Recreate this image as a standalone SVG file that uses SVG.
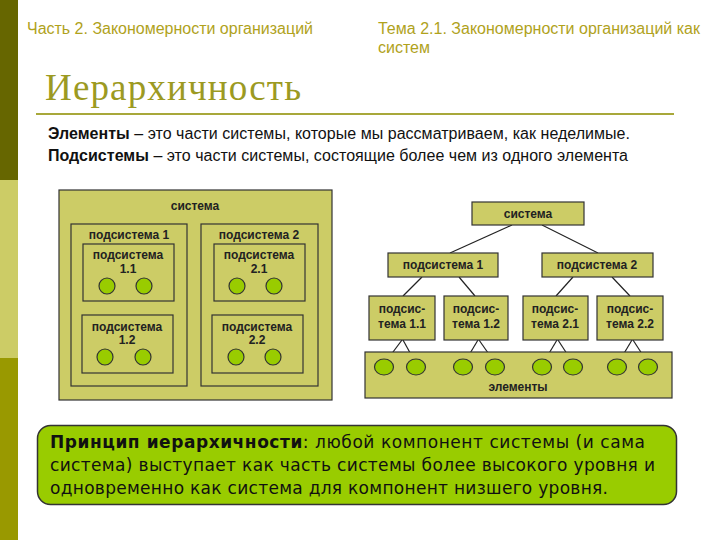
<svg xmlns="http://www.w3.org/2000/svg" width="720" height="540" viewBox="0 0 720 540">
<style>
.hdr{font-family:"Liberation Sans",Arial,sans-serif;font-size:16px;fill:#b0a21c}
.title{font-family:"Liberation Serif","Times New Roman",serif;font-size:37px;fill:#9c9a22}
.def{font-family:"Liberation Sans",Arial,sans-serif;font-size:16px;fill:#111}
.box{fill:#cccc66;stroke:#333;stroke-width:1.2}
.el{fill:#99cc00;stroke:#333;stroke-width:1.2}
.lbl{font-family:"Liberation Sans",Arial,sans-serif;font-size:12px;font-weight:bold;fill:#222;text-anchor:middle}
.conn line{stroke:#222;stroke-width:1.2}
.prin{font-family:"DejaVu Sans",Verdana,sans-serif;font-size:17px;fill:#111}
</style>
<rect width="720" height="540" fill="#fff"/>
<rect x="0" y="0" width="18" height="180" fill="#666600"/>
<rect x="0" y="180" width="18" height="178" fill="#cccc66"/>
<rect x="0" y="358" width="18" height="182" fill="#999900"/>

<text class="hdr" x="27" y="34" textLength="286">Часть 2. Закономерности организаций</text>
<text class="hdr" x="378" y="34" textLength="322">Тема 2.1. Закономерности организаций как</text>
<text class="hdr" x="378" y="53">систем</text>
<text class="title" x="45" y="100" textLength="256">Иерархичность</text>
<line x1="36" y1="114" x2="674" y2="114" stroke="#a8a83a" stroke-width="2"/>
<text class="def" x="48" y="139" textLength="582"><tspan font-weight="bold">Элементы</tspan> – это части системы, которые мы рассматриваем, как неделимые.</text>
<text class="def" x="48" y="161" textLength="580"><tspan font-weight="bold">Подсистемы</tspan> – это части системы, состоящие более чем из одного элемента</text>

<!-- Left nested diagram -->
<g id="left-system">
<rect class="box" x="59" y="190" width="273" height="210"/>
<text class="lbl" x="195" y="210">система</text>
</g>
<g id="left-sub1">
<rect class="box" x="71" y="224" width="116" height="162"/>
<text class="lbl" x="129" y="239">подсистема 1</text>
</g>
<g id="left-sub2">
<rect class="box" x="201" y="224" width="117" height="162"/>
<text class="lbl" x="259" y="239">подсистема 2</text>
</g>
<g id="left-sub11">
<rect class="box" x="83" y="244" width="91" height="57"/>
<text class="lbl" x="128" y="259">подсистема</text>
<text class="lbl" x="128" y="273">1.1</text>
<circle class="el" cx="107" cy="286" r="8"/>
<circle class="el" cx="144" cy="286" r="8"/>
</g>
<g id="left-sub12">
<rect class="box" x="82" y="315" width="91" height="58"/>
<text class="lbl" x="127" y="331">подсистема</text>
<text class="lbl" x="127" y="344">1.2</text>
<circle class="el" cx="105" cy="357" r="8"/>
<circle class="el" cx="143" cy="357" r="8"/>
</g>
<g id="left-sub21">
<rect class="box" x="214" y="244" width="91" height="57"/>
<text class="lbl" x="259" y="259">подсистема</text>
<text class="lbl" x="259" y="273">2.1</text>
<circle class="el" cx="237" cy="286" r="8"/>
<circle class="el" cx="274" cy="286" r="8"/>
</g>
<g id="left-sub22">
<rect class="box" x="212" y="315" width="91" height="58"/>
<text class="lbl" x="257" y="331">подсистема</text>
<text class="lbl" x="257" y="344">2.2</text>
<circle class="el" cx="236" cy="357" r="8"/>
<circle class="el" cx="273" cy="357" r="8"/>
</g>

<!-- Right tree diagram -->
<g class="conn" id="connectors">
<line x1="512" y1="225" x2="450" y2="253"/>
<line x1="542" y1="225" x2="598" y2="253"/>
<line x1="422" y1="277" x2="403" y2="296"/>
<line x1="459" y1="277" x2="475" y2="296"/>
<line x1="573" y1="277" x2="556" y2="296"/>
<line x1="612" y1="277" x2="630" y2="296"/>
<line x1="402" y1="340" x2="387" y2="360"/>
<line x1="403" y1="340" x2="414" y2="360"/>
<line x1="478" y1="340" x2="466" y2="360"/>
<line x1="479" y1="340" x2="493" y2="360"/>
<line x1="557" y1="340" x2="545" y2="360"/>
<line x1="558" y1="340" x2="571" y2="360"/>
<line x1="632" y1="340" x2="620" y2="360"/>
<line x1="633" y1="340" x2="646" y2="360"/>
</g>
<g id="r-system">
<rect class="box" x="472" y="202" width="112" height="23"/>
<text class="lbl" x="528" y="218">система</text>
</g>
<g id="r-sub1">
<rect class="box" x="388" y="253" width="110" height="24"/>
<text class="lbl" x="443" y="269">подсистема 1</text>
</g>
<g id="r-sub2">
<rect class="box" x="542" y="253" width="111" height="24"/>
<text class="lbl" x="597" y="269">подсистема 2</text>
</g>
<g id="r-sub11">
<rect class="box" x="369" y="296" width="66" height="44"/>
<text class="lbl" x="402" y="313">подсис-</text>
<text class="lbl" x="402" y="328">тема 1.1</text>
</g>
<g id="r-sub12">
<rect class="box" x="444" y="296" width="64" height="44"/>
<text class="lbl" x="476" y="313">подсис-</text>
<text class="lbl" x="476" y="328">тема 1.2</text>
</g>
<g id="r-sub21">
<rect class="box" x="523" y="296" width="65" height="44"/>
<text class="lbl" x="555" y="313">подсис-</text>
<text class="lbl" x="555" y="328">тема 2.1</text>
</g>
<g id="r-sub22">
<rect class="box" x="597" y="296" width="66" height="44"/>
<text class="lbl" x="630" y="313">подсис-</text>
<text class="lbl" x="630" y="328">тема 2.2</text>
</g>
<g id="r-elements">
<rect class="box" x="365" y="352" width="307" height="46"/>
<text class="lbl" x="518" y="391">элементы</text>
<ellipse class="el" cx="384" cy="367" rx="9.5" ry="8"/>
<ellipse class="el" cx="416" cy="367" rx="9.5" ry="8"/>
<ellipse class="el" cx="463" cy="367" rx="9.5" ry="8"/>
<ellipse class="el" cx="495" cy="367" rx="9.5" ry="8"/>
<ellipse class="el" cx="542" cy="367" rx="9.5" ry="8"/>
<ellipse class="el" cx="573" cy="367" rx="9.5" ry="8"/>
<ellipse class="el" cx="617" cy="367" rx="9.5" ry="8"/>
<ellipse class="el" cx="648" cy="367" rx="9.5" ry="8"/>
</g>

<!-- Principle box -->
<g id="principle">
<rect x="37.5" y="425.5" width="639" height="79" rx="13" fill="#99cc00" stroke="#333" stroke-width="1.5"/>
<text class="prin" x="50" y="448" textLength="595"><tspan font-weight="bold">Принцип иерархичности</tspan>: любой компонент системы (и сама</text>
<text class="prin" x="50" y="471" textLength="605">система) выступает как часть системы более высокого уровня и</text>
<text class="prin" x="50" y="494" textLength="558">одновременно как система для компонент низшего уровня.</text>
</g>
</svg>
